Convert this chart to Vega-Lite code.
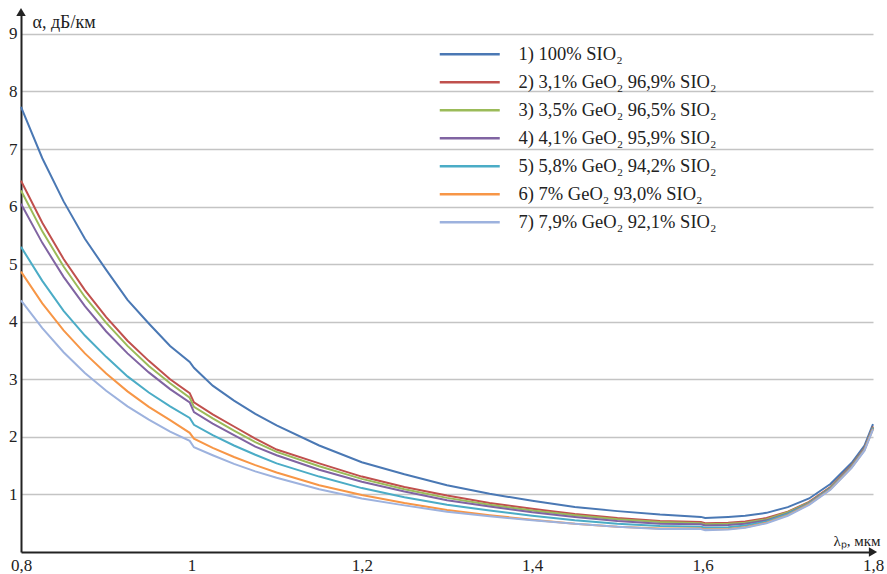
{
  "$schema": "https://vega.github.io/schema/vega-lite/v6.json",
  "width": 852,
  "height": 540,
  "autosize": {"type": "none"},
  "padding": {"left": 21, "top": 12, "right": 14, "bottom": 22},
  "background": "white",
  "config": {"view": {"stroke": null}, "font": "Liberation Serif"},
  "datasets": {
    "curves": [
      {"x": 0.8, "a": 7.73, "b": 6.45, "c": 6.28, "d": 6.05, "e": 5.30, "f": 4.87, "g": 4.37},
      {"x": 0.825, "a": 6.84, "b": 5.72, "c": 5.57, "d": 5.37, "e": 4.71, "f": 4.32, "g": 3.89},
      {"x": 0.85, "a": 6.09, "b": 5.09, "c": 4.96, "d": 4.78, "e": 4.19, "f": 3.85, "g": 3.47},
      {"x": 0.875, "a": 5.44, "b": 4.55, "c": 4.43, "d": 4.27, "e": 3.76, "f": 3.45, "g": 3.11},
      {"x": 0.9, "a": 4.90, "b": 4.08, "c": 3.98, "d": 3.83, "e": 3.39, "f": 3.10, "g": 2.80},
      {"x": 0.925, "a": 4.38, "b": 3.67, "c": 3.58, "d": 3.45, "e": 3.05, "f": 2.79, "g": 2.53},
      {"x": 0.95, "a": 3.97, "b": 3.32, "c": 3.23, "d": 3.12, "e": 2.77, "f": 2.52, "g": 2.30},
      {"x": 0.975, "a": 3.58, "b": 3.00, "c": 2.93, "d": 2.83, "e": 2.53, "f": 2.29, "g": 2.09},
      {"x": 0.998, "a": 3.30, "b": 2.76, "c": 2.68, "d": 2.60, "e": 2.33, "f": 2.07, "g": 1.93},
      {"x": 1.003, "a": 3.20, "b": 2.60, "c": 2.52, "d": 2.43, "e": 2.21, "f": 1.97, "g": 1.82},
      {"x": 1.025, "a": 2.89, "b": 2.39, "c": 2.32, "d": 2.23, "e": 2.03, "f": 1.81, "g": 1.68},
      {"x": 1.05, "a": 2.63, "b": 2.18, "c": 2.11, "d": 2.03, "e": 1.85, "f": 1.65, "g": 1.53},
      {"x": 1.075, "a": 2.40, "b": 1.97, "c": 1.91, "d": 1.83, "e": 1.69, "f": 1.51, "g": 1.40},
      {"x": 1.1, "a": 2.20, "b": 1.78, "c": 1.74, "d": 1.68, "e": 1.54, "f": 1.38, "g": 1.29},
      {"x": 1.15, "a": 1.85, "b": 1.54, "c": 1.49, "d": 1.43, "e": 1.31, "f": 1.16, "g": 1.09},
      {"x": 1.2, "a": 1.56, "b": 1.31, "c": 1.27, "d": 1.22, "e": 1.11, "f": 0.99, "g": 0.93},
      {"x": 1.25, "a": 1.35, "b": 1.13, "c": 1.09, "d": 1.05, "e": 0.95, "f": 0.85, "g": 0.81},
      {"x": 1.3, "a": 1.16, "b": 0.98, "c": 0.94, "d": 0.90, "e": 0.82, "f": 0.73, "g": 0.70},
      {"x": 1.35, "a": 1.01, "b": 0.85, "c": 0.82, "d": 0.79, "e": 0.72, "f": 0.64, "g": 0.62},
      {"x": 1.4, "a": 0.89, "b": 0.75, "c": 0.72, "d": 0.69, "e": 0.63, "f": 0.56, "g": 0.55},
      {"x": 1.45, "a": 0.78, "b": 0.66, "c": 0.64, "d": 0.61, "e": 0.55, "f": 0.49, "g": 0.49},
      {"x": 1.5, "a": 0.71, "b": 0.59, "c": 0.57, "d": 0.54, "e": 0.49, "f": 0.44, "g": 0.44},
      {"x": 1.55, "a": 0.65, "b": 0.54, "c": 0.52, "d": 0.49, "e": 0.45, "f": 0.41, "g": 0.40},
      {"x": 1.598, "a": 0.61, "b": 0.52, "c": 0.50, "d": 0.48, "e": 0.44, "f": 0.41, "g": 0.40},
      {"x": 1.603, "a": 0.59, "b": 0.50, "c": 0.48, "d": 0.46, "e": 0.42, "f": 0.39, "g": 0.38},
      {"x": 1.63, "a": 0.61, "b": 0.51, "c": 0.49, "d": 0.47, "e": 0.43, "f": 0.40, "g": 0.39},
      {"x": 1.65, "a": 0.63, "b": 0.53, "c": 0.51, "d": 0.49, "e": 0.46, "f": 0.43, "g": 0.42},
      {"x": 1.675, "a": 0.68, "b": 0.59, "c": 0.57, "d": 0.55, "e": 0.53, "f": 0.51, "g": 0.50},
      {"x": 1.7, "a": 0.78, "b": 0.70, "c": 0.69, "d": 0.67, "e": 0.66, "f": 0.64, "g": 0.63},
      {"x": 1.725, "a": 0.93, "b": 0.87, "c": 0.86, "d": 0.85, "e": 0.84, "f": 0.83, "g": 0.82},
      {"x": 1.75, "a": 1.18, "b": 1.13, "c": 1.12, "d": 1.11, "e": 1.10, "f": 1.09, "g": 1.08},
      {"x": 1.775, "a": 1.55, "b": 1.51, "c": 1.50, "d": 1.49, "e": 1.48, "f": 1.47, "g": 1.46},
      {"x": 1.79, "a": 1.85, "b": 1.81, "c": 1.80, "d": 1.79, "e": 1.78, "f": 1.77, "g": 1.76},
      {"x": 1.8, "a": 2.22, "b": 2.18, "c": 2.17, "d": 2.16, "e": 2.15, "f": 2.14, "g": 2.13}
    ]
  },
  "layer": [
    {
      "data": {"name": "curves"},
      "transform": [{"fold": ["a", "b", "c", "d", "e", "f", "g"], "as": ["k", "y"]}],
      "mark": {"type": "line", "strokeWidth": 2},
      "encoding": {
        "x": {
          "field": "x",
          "type": "quantitative",
          "scale": {"domain": [0.8, 1.8], "nice": false, "zero": false},
          "axis": {
            "values": [0.8, 1, 1.2, 1.4, 1.6, 1.8],
            "labelExpr": "replace(format(datum.value, '.1~f'), '.', ',')",
            "grid": false,
            "ticks": false,
            "domainColor": "#222222",
            "domainWidth": 2,
            "labelFont": "Liberation Serif",
            "labelFontSize": 17,
            "labelColor": "#222222",
            "labelPadding": 5,
            "labelFlush": false,
            "title": "λₚ, мкм",
            "titleFont": "Liberation Serif",
            "titleFontSize": 15,
            "titleFontWeight": "normal",
            "titleColor": "#222222",
            "titleX": 859,
            "titleY": -7,
            "titleAlign": "right",
            "titleBaseline": "alphabetic"
          }
        },
        "y": {
          "field": "y",
          "type": "quantitative",
          "scale": {"domain": [0, 9.38], "nice": false},
          "axis": {
            "values": [1, 2, 3, 4, 5, 6, 7, 8, 9],
            "format": "d",
            "grid": true,
            "gridColor": "#c4c4c4",
            "gridWidth": 1.5,
            "ticks": false,
            "domainColor": "#222222",
            "domainWidth": 2,
            "labelFont": "Liberation Serif",
            "labelFontSize": 17,
            "labelColor": "#222222",
            "labelPadding": 4,
            "title": "α, дБ/км",
            "titleFont": "Liberation Serif",
            "titleFontSize": 18,
            "titleFontWeight": "normal",
            "titleColor": "#222222",
            "titleAngle": 0,
            "titleX": 11,
            "titleY": 15,
            "titleAlign": "left",
            "titleBaseline": "alphabetic"
          }
        },
        "color": {
          "field": "k",
          "type": "nominal",
          "scale": {
            "domain": ["a", "b", "c", "d", "e", "f", "g"],
            "range": ["#4a78b4", "#c0504d", "#9bbb59", "#8064a2", "#4bacc6", "#f79646", "#9db2de"]
          },
          "legend": {
            "orient": "none",
            "legendX": 417,
            "legendY": 33,
            "title": null,
            "symbolType": "M-1,0H7",
            "symbolSize": 225,
            "symbolStrokeWidth": 2.5,
            "symbolFillColor": "transparent",
            "rowPadding": 9,
            "labelFont": "Liberation Serif",
            "labelFontSize": 18.5,
            "labelColor": "#222222",
            "labelOffset": 62,
            "labelLimit": 400,
            "labelExpr": "['1) 100% SIO₂', '2) 3,1% GeO₂ 96,9% SIO₂', '3) 3,5% GeO₂ 96,5% SIO₂', '4) 4,1% GeO₂ 95,9% SIO₂', '5) 5,8% GeO₂ 94,2% SIO₂', '6) 7% GeO₂ 93,0% SIO₂', '7) 7,9% GeO₂ 92,1% SIO₂'][indexof(['a','b','c','d','e','f','g'], datum.label)]"
          }
        }
      }
    },
    {
      "data": {"values": [{}]},
      "mark": {"type": "point", "shape": "triangle-right", "filled": true, "color": "#222222", "size": 90, "opacity": 1},
      "encoding": {"x": {"datum": 1.8}, "y": {"datum": 0}}
    },
    {
      "data": {"values": [{}]},
      "mark": {"type": "point", "shape": "triangle-up", "filled": true, "color": "#222222", "size": 90, "opacity": 1},
      "encoding": {"x": {"datum": 0.8}, "y": {"datum": 9.38}}
    }
  ]
}
